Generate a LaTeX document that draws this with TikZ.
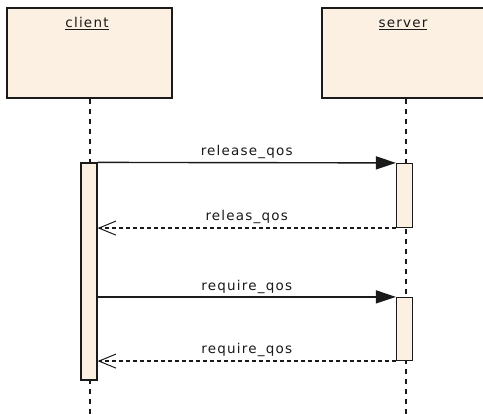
\documentclass[tikz,border=0pt]{standalone}
\usepackage{fontspec}
\usetikzlibrary{arrows.meta}
\newfontfamily\lblfont[LetterSpace=9]{DejaVu Sans}
\definecolor{boxfill}{HTML}{FCF0E2}
\definecolor{linecol}{HTML}{1A1A1A}
\tikzset{
  objbox/.style={draw=linecol, line width=1.6pt, fill=boxfill, minimum width=165pt, minimum height=90pt, inner sep=0pt},
  actbox/.style={draw=linecol, line width=1.2pt, fill=boxfill, minimum width=16pt, inner sep=0pt},
  lifeline/.style={draw=linecol, line width=1.4pt, dash pattern=on 5pt off 5pt},
  callmsg/.style={draw=linecol, line width=1.4pt, -{Triangle[length=20pt,width=13pt]}},
  retmsg/.style={draw=linecol, line width=1.2pt, dash pattern=on 4pt off 3pt, -{Straight Barb[length=17pt,width=14pt,line width=1pt]}},
  lbl/.style={font=\lblfont\fontsize{13.5}{15}\selectfont, text=linecol, inner sep=1pt}
}
\begin{document}
\begin{tikzpicture}[x=1pt,y=-1pt]
\useasboundingbox (0,0) rectangle (483,414);
\clip (0,0) rectangle (483,414);
\fill[white] (0,0) rectangle (483,414);
% object boxes
\node[objbox] (client) at (89.5,53) {};
\node[objbox] (server) at (404.5,53) {};
\node[lbl, anchor=base] (clientlbl) at (87,28) {\underline{client}};
\node[lbl, anchor=base] (serverlbl) at (403,28) {\underline{server}};
% lifeline ends
\coordinate (cend) at (90,414);
\coordinate (send) at (406,414);
\draw[lifeline] (client.south -| cend) -- (cend);
\draw[lifeline] (server.south -| send) -- (send);
% activations
\node[actbox, minimum height=217pt] (ca) at (89,271.5) {};
\node[actbox, minimum height=64pt] (sa1) at (404.5,195.5) {};
\node[actbox, minimum height=63pt] (sa2) at (404.5,329) {};
% messages
\draw[callmsg] (ca.north east) -- (sa1.north west)
  node[lbl, midway, above=2pt] (m1) {release\_qos};
\draw[retmsg] (sa1.south west) -- (ca.east |- sa1.south)
  node[lbl, midway, above=3pt] (m2) {releas\_qos};
\draw[callmsg] (ca.east |- sa2.north) -- (sa2.north west)
  node[lbl, midway, above=2pt] (m3) {require\_qos};
\draw[retmsg] (sa2.south west) -- (ca.east |- sa2.south)
  node[lbl, midway, above=3pt] (m4) {require\_qos};
\end{tikzpicture}
\end{document}
